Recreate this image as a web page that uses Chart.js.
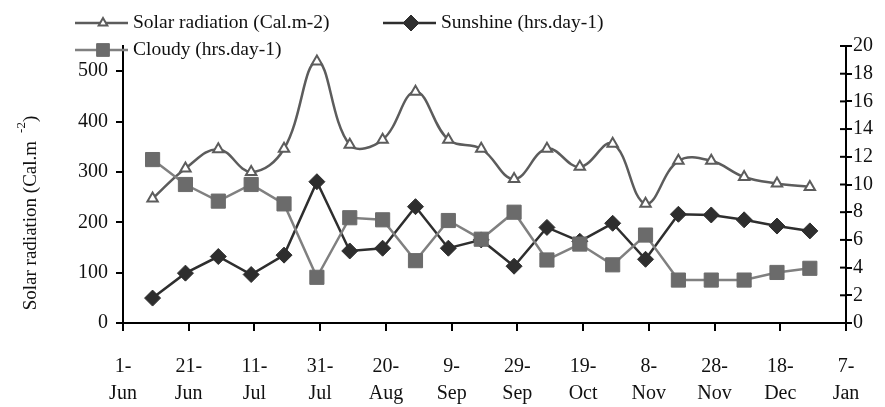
<!DOCTYPE html>
<html>
<head>
<meta charset="utf-8">
<script src="https://cdn.jsdelivr.net/npm/chart.js@4/dist/chart.umd.min.js"></script>
<style>
  html, body { margin: 0; padding: 0; background: #fff; }
  #wrap { width: 885px; height: 407px; position: relative; }
</style>
</head>
<body>
<div id="wrap"><canvas id="chart"></canvas></div>
<script>
// days after 1 June for each 10-day observation
const days = [9, 19, 29, 39, 49, 59, 69, 79, 89, 99, 109, 119, 129, 139, 149, 159, 169, 179, 189, 199, 209];

const solarRadiation = [247, 307, 345, 300, 346, 519, 354, 364, 459, 364, 346, 286, 346, 310, 356, 237, 322, 322, 290, 277, 270];
const sunshine = [1.8, 3.6, 4.8, 3.5, 4.9, 10.2, 5.2, 5.4, 8.4, 5.4, 6.0, 4.1, 6.9, 5.9, 7.2, 4.6, 7.85, 7.8, 7.45, 7.0, 6.65];
const cloudy = [11.8, 10.0, 8.8, 10.0, 8.6, 3.3, 7.6, 7.45, 4.5, 7.4, 6.05, 8.0, 4.55, 5.7, 4.2, 6.35, 3.1, 3.1, 3.1, 3.65, 3.95];

const xTickLabels = [["1-", "Jun"], ["21-", "Jun"], ["11-", "Jul"], ["31-", "Jul"], ["20-", "Aug"], ["9-", "Sep"],
                     ["29-", "Sep"], ["19-", "Oct"], ["8-", "Nov"], ["28-", "Nov"], ["18-", "Dec"], ["7-", "Jan"]];

const serif = "'Liberation Serif', 'DejaVu Serif', serif";

function pts(values) {
    return values.map((v, i) => ({ x: days[i], y: v }));
}

// legend + axis title drawn by hand so they can sit where the original has them
const decorations = {
    id: 'decorations',
    afterDraw(chart) {
        const ctx = chart.ctx;
        ctx.save();
        ctx.textBaseline = "middle";
        ctx.textAlign = "left";

        const items = [
            { ds: 0, x: 75, y: 23, r: 5 },
            { ds: 1, x: 383, y: 23, r: 8 },
            { ds: 2, x: 75, y: 50, r: 9 }
        ];
        items.forEach(it => {
            const ds = chart.data.datasets[it.ds];
            ctx.strokeStyle = ds.borderColor;
            ctx.lineWidth = 2.5;
            ctx.beginPath();
            ctx.moveTo(it.x, it.y);
            ctx.lineTo(it.x + 53, it.y);
            ctx.stroke();
            ctx.fillStyle = ds.pointBackgroundColor;
            ctx.strokeStyle = ds.pointBorderColor;
            ctx.lineWidth = ds.pointBorderWidth;
            Chart.helpers.drawPoint(ctx, {
                pointStyle: ds.pointStyle,
                radius: it.r,
                borderWidth: ds.pointBorderWidth
            }, it.x + 28, it.y);
            ctx.font = "19.5px " + serif;
            ctx.fillStyle = "#111";
            ctx.fillText(ds.label, it.x + 58, it.y);
        });

        // y axis title with superscript
        const main = "Solar radiation (Cal.m";
        ctx.translate(31, 213);
        ctx.rotate(-Math.PI / 2);
        ctx.font = "19px " + serif;
        const w1 = ctx.measureText(main).width;
        ctx.font = "13px " + serif;
        const w2 = ctx.measureText("-2").width;
        ctx.font = "19px " + serif;
        const w3 = ctx.measureText(")").width;
        let x0 = -(w1 + 8 + w2 + w3) / 2;
        ctx.fillText(main, x0, 0);
        ctx.font = "13px " + serif;
        ctx.fillText("-2", x0 + w1 + 8, -9);
        ctx.font = "19px " + serif;
        ctx.fillText(")", x0 + w1 + 8 + w2, 0);
        ctx.restore();

        // right axis tick marks cross the axis line
        const r = chart.scales.yRight;
        ctx.save();
        ctx.strokeStyle = "#000";
        ctx.lineWidth = 2;
        r.ticks.forEach(t => {
            const y = r.getPixelForValue(t.value);
            ctx.beginPath();
            ctx.moveTo(r.left - 6, y);
            ctx.lineTo(r.left, y);
            ctx.stroke();
        });
        ctx.restore();
    }
};

new Chart(document.getElementById("chart"), {
    type: 'line',
    data: {
        datasets: [
            {
                label: "Solar radiation (Cal.m-2)",
                data: pts(solarRadiation),
                yAxisID: 'yLeft',
                borderColor: '#5c5c5c',
                borderWidth: 2.5,
                tension: 0.4,
                pointStyle: 'triangle',
                pointRadius: 6,
                pointBorderWidth: 2,
                pointBackgroundColor: '#ffffff',
                pointBorderColor: '#5c5c5c',
                order: 3
            },
            {
                label: "Sunshine (hrs.day-1)",
                data: pts(sunshine),
                yAxisID: 'yRight',
                borderColor: '#2e2e2e',
                borderWidth: 2.5,
                tension: 0,
                pointStyle: 'rectRot',
                pointRadius: 8,
                pointBorderWidth: 1,
                pointBackgroundColor: '#2e2e2e',
                pointBorderColor: '#2e2e2e',
                order: 2
            },
            {
                label: "Cloudy (hrs.day-1)",
                data: pts(cloudy),
                yAxisID: 'yRight',
                borderColor: '#808080',
                borderWidth: 2.5,
                tension: 0,
                pointStyle: 'rect',
                pointRadius: 10,
                pointBorderWidth: 1,
                pointBackgroundColor: '#6b6b6b',
                pointBorderColor: '#6b6b6b',
                order: 1
            }
        ]
    },
    options: {
        responsive: true,
        maintainAspectRatio: false,
        animation: false,
        layout: { padding: { top: 46, left: 0, right: 0, bottom: 0 } },
        plugins: {
            legend: { display: false },
            tooltip: { enabled: false }
        },
        scales: {
            x: {
                type: 'linear',
                min: 0,
                max: 220,
                afterFit: s => { s.height = 84; },
                grid: { drawOnChartArea: false, tickLength: 8, color: '#000', lineWidth: 2 },
                border: { color: '#000', width: 2 },
                ticks: {
                    stepSize: 20,
                    autoSkip: false,
                    maxRotation: 0,
                    padding: 22,
                    color: '#111',
                    font: { family: serif, size: 20, lineHeight: 1.35 },
                    callback: (v, i) => xTickLabels[i]
                }
            },
            yLeft: {
                position: 'left',
                min: 0,
                max: 550,
                afterFit: s => { s.width = 123; },
                afterBuildTicks: s => { s.ticks = s.ticks.filter(t => t.value <= 500); },
                grid: { drawOnChartArea: false, tickLength: 7, color: '#000', lineWidth: 2 },
                border: { color: '#000', width: 2 },
                ticks: {
                    stepSize: 100,
                    padding: 8,
                    color: '#111',
                    font: { family: serif, size: 20 }
                }
            },
            yRight: {
                position: 'right',
                min: 0,
                max: 20,
                afterFit: s => { s.width = 39; },
                grid: { drawOnChartArea: false, tickLength: 6, color: '#000', lineWidth: 2 },
                border: { color: '#000', width: 2 },
                ticks: {
                    stepSize: 2,
                    padding: 1,
                    color: '#111',
                    font: { family: serif, size: 20 }
                }
            }
        }
    },
    plugins: [decorations]
});
</script>
</body>
</html>
